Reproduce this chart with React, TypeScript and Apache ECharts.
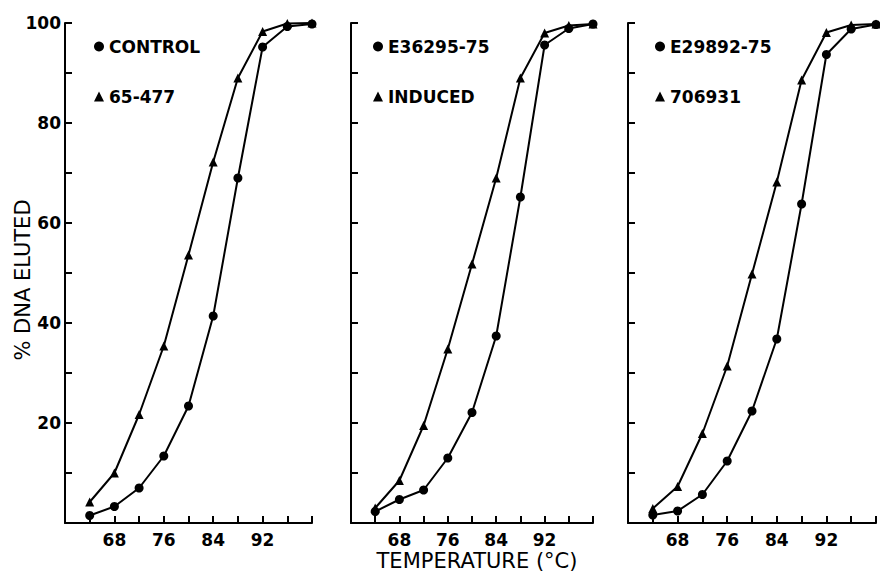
import { useEffect, useRef } from "react";
import * as echarts from "echarts";

// Temperatures (°C) at which % DNA eluted was measured
const temperatures = [64, 68, 72, 76, 80, 84, 88, 92, 96, 100];
const xTickLabels = [68, 76, 84, 92];
const yTickLabels = [20, 40, 60, 80, 100];

// Panel 1
const controlName = "CONTROL";
const control = [1.5, 3.3, 7, 13.4, 23.4, 41.4, 69, 95.2, 99.3, 99.8];
const strain65Name = "65-477";
const strain65 = [4.2, 10, 21.7, 35.4, 53.6, 72.2, 89, 98.3, 99.9, 100];

// Panel 2
const e36295Name = "E36295-75";
const e36295 = [2.3, 4.7, 6.6, 13, 22.1, 37.4, 65.2, 95.6, 98.9, 99.8];
const inducedName = "INDUCED";
const induced = [3, 8.5, 19.5, 34.8, 51.8, 69, 89, 98, 99.5, 99.8];

// Panel 3
const e29892Name = "E29892-75";
const e29892 = [1.6, 2.4, 5.7, 12.4, 22.4, 36.8, 63.8, 93.7, 98.8, 99.7];
const strain706Name = "706931";
const strain706 = [2.9, 7.3, 17.9, 31.4, 49.8, 68.2, 88.6, 98.1, 99.6, 99.8];

const yTitle = "% DNA ELUTED";
const xTitle = "TEMPERATURE (°C)";

const FONT = "DejaVu Sans";

export default function App() {
  const ref = useRef<HTMLDivElement>(null);
  useEffect(() => {
    if (!ref.current) return;
    const chart = echarts.init(ref.current, undefined, { renderer: "svg" });

    const panels = [
      { circle: [controlName, control], tri: [strain65Name, strain65] },
      { circle: [e36295Name, e36295], tri: [inducedName, induced] },
      { circle: [e29892Name, e29892], tri: [strain706Name, strain706] },
    ] as { circle: [string, number[]]; tri: [string, number[]] }[];

    const grids = [
      { left: 65, top: 23, width: 247, height: 500 },
      { left: 351, top: 23, width: 242, height: 500 },
      { left: 628, top: 23, width: 248, height: 500 },
    ];
    const legendLeft = [89, 368, 650];

    const series: any[] = [];
    panels.forEach((p, i) => {
      series.push({
        type: "line",
        name: p.circle[0],
        xAxisIndex: i,
        yAxisIndex: i,
        data: temperatures.map((t, j) => [t, p.circle[1][j]]),
        symbol: "circle",
        symbolSize: 9,
        lineStyle: { color: "#000", width: 2 },
        itemStyle: { color: "#000" },
        clip: false,
      });
      series.push({
        type: "line",
        name: p.tri[0],
        xAxisIndex: i,
        yAxisIndex: i,
        data: temperatures.map((t, j) => [t, p.tri[1][j]]),
        symbol: "triangle",
        symbolSize: 9,
        lineStyle: { color: "#000", width: 2 },
        itemStyle: { color: "#000" },
        clip: false,
      });
    });

    chart.setOption({
      animation: false,
      backgroundColor: "#fff",
      grid: grids,
      xAxis: grids.map((_, i) => ({
        type: "value",
        gridIndex: i,
        min: 60,
        max: 100,
        interval: 4,
        axisLine: { show: true, lineStyle: { color: "#000", width: 2 } },
        axisTick: { show: true, inside: true, length: 7, lineStyle: { color: "#000", width: 2 } },
        splitLine: { show: false },
        axisLabel: {
          show: true,
          margin: 8,
          color: "#000",
          fontFamily: FONT,
          fontWeight: "bold",
          fontSize: 17,
          formatter: (v: number) => (xTickLabels.includes(v) ? String(v) : ""),
        },
      })),
      yAxis: grids.map((_, i) => ({
        type: "value",
        gridIndex: i,
        min: 0,
        max: 100,
        interval: 10,
        axisLine: { show: true, lineStyle: { color: "#000", width: 2 } },
        axisTick: { show: true, inside: true, length: 7, lineStyle: { color: "#000", width: 2 } },
        splitLine: { show: false },
        axisLabel: {
          show: i === 0,
          margin: 4,
          color: "#000",
          fontFamily: FONT,
          fontWeight: "bold",
          fontSize: 17,
          formatter: (v: number) => (yTickLabels.includes(v) ? String(v) : ""),
        },
      })),
      legend: panels.map((p, i) => ({
        left: legendLeft[i],
        top: 33,
        orient: "vertical",
        itemGap: 33,
        itemWidth: 10,
        itemHeight: 10,
        selectedMode: false,
        data: [
          { name: p.circle[0], icon: "circle" },
          { name: p.tri[0], icon: "triangle" },
        ],
        textStyle: { fontFamily: FONT, fontSize: 17, fontWeight: "bold", color: "#000" },
      })),
      graphic: [
        {
          type: "text",
          x: 23,
          y: 280,
          rotation: Math.PI / 2,
          style: {
            text: yTitle,
            fill: "#000",
            font: `21px "${FONT}"`,
            align: "center",
            verticalAlign: "middle",
          },
        },
        {
          type: "text",
          x: 477,
          y: 571,
          style: {
            text: xTitle,
            fill: "#000",
            font: `21px "${FONT}"`,
            align: "center",
            verticalAlign: "bottom",
          },
        },
      ],
      series,
    });
    return () => chart.dispose();
  }, []);
  return (
    <div
      ref={ref}
      style={{ position: "fixed", left: 0, top: 0, width: 880, height: 572 }}
    />
  );
}
